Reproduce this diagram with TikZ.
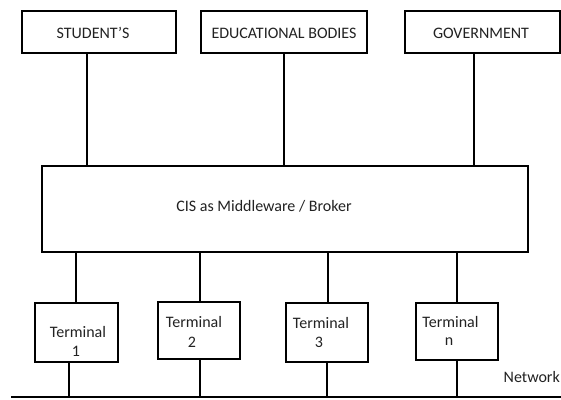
\documentclass[tikz,border=0pt]{standalone}
\usepackage{fontspec}
\setmainfont{Carlito}
\definecolor{txt}{HTML}{222222}
\begin{document}
\begin{tikzpicture}[x=1pt,y=-1pt,
  box/.style={draw=black, line width=2pt, fill=white, inner sep=0pt, anchor=center},
  lbl/.style={text=txt, font=\fontsize{16}{18}\selectfont, inner sep=0pt, anchor=center},
  conn/.style={draw=black, line width=2pt}]
\useasboundingbox (0,0) rectangle (561,399);
% top boxes
\node[box, minimum width=154pt, minimum height=42pt] (stu) at (99,32) {};
\node[box, minimum width=166pt, minimum height=42pt] (edu) at (284,32) {};
\node[box, minimum width=155pt, minimum height=42pt] (gov) at (482.5,32) {};
\node[lbl] (stuT) at (93,33) {STUDENT’S};
\node[lbl] (eduT) at (284,33) {EDUCATIONAL BODIES};
\node[lbl] (govT) at (481,33) {GOVERNMENT};
% middleware
\node[box, minimum width=486pt, minimum height=86pt] (cis) at (285,209) {};
\node[lbl] (cisT) at (264,206) {CIS as Middleware / Broker};
% terminals
\node[box, minimum width=83pt, minimum height=59pt] (t1) at (76.5,332.5) {};
\node[box, minimum width=82pt, minimum height=57pt] (t2) at (199,330.5) {};
\node[box, minimum width=82pt, minimum height=59pt] (t3) at (327,332.5) {};
\node[box, minimum width=82pt, minimum height=57pt] (tn) at (457,331.5) {};
\node[lbl] (t1a) at (78,332) {Terminal};
\node[lbl] (t1b) at (76,351) {1};
\node[lbl] (t2a) at (194,322) {Terminal};
\node[lbl] (t2b) at (192,342) {2};
\node[lbl] (t3a) at (321,323) {Terminal};
\node[lbl] (t3b) at (319,342.5) {3};
\node[lbl] (tna) at (450.5,322) {Terminal};
\node[lbl] (tnb) at (449,342) {n};
% network
\coordinate (netL) at (11,397);
\coordinate (netR) at (561,397);
\node[lbl, anchor=east] (net) at (560,377) {Network};
\draw[conn] (netL) -- (netR);
% connectors top
\draw[conn] (87,0 |- stu.south) -- (87,0 |- cis.north);
\draw[conn] (284,0 |- edu.south) -- (284,0 |- cis.north);
\draw[conn] (474,0 |- gov.south) -- (474,0 |- cis.north);
% connectors cis to terminals
\draw[conn] (76,0 |- cis.south) -- (76,0 |- t1.north);
\draw[conn] (200,0 |- cis.south) -- (200,0 |- t2.north);
\draw[conn] (328,0 |- cis.south) -- (328,0 |- t3.north);
\draw[conn] (457,0 |- cis.south) -- (457,0 |- tn.north);
% terminals to network
\draw[conn] (69,0 |- t1.south) -- (69,0 |- netL);
\draw[conn] (200,0 |- t2.south) -- (200,0 |- netL);
\draw[conn] (327,0 |- t3.south) -- (327,0 |- netL);
\draw[conn] (457,0 |- tn.south) -- (457,0 |- netL);
\end{tikzpicture}
\end{document}
